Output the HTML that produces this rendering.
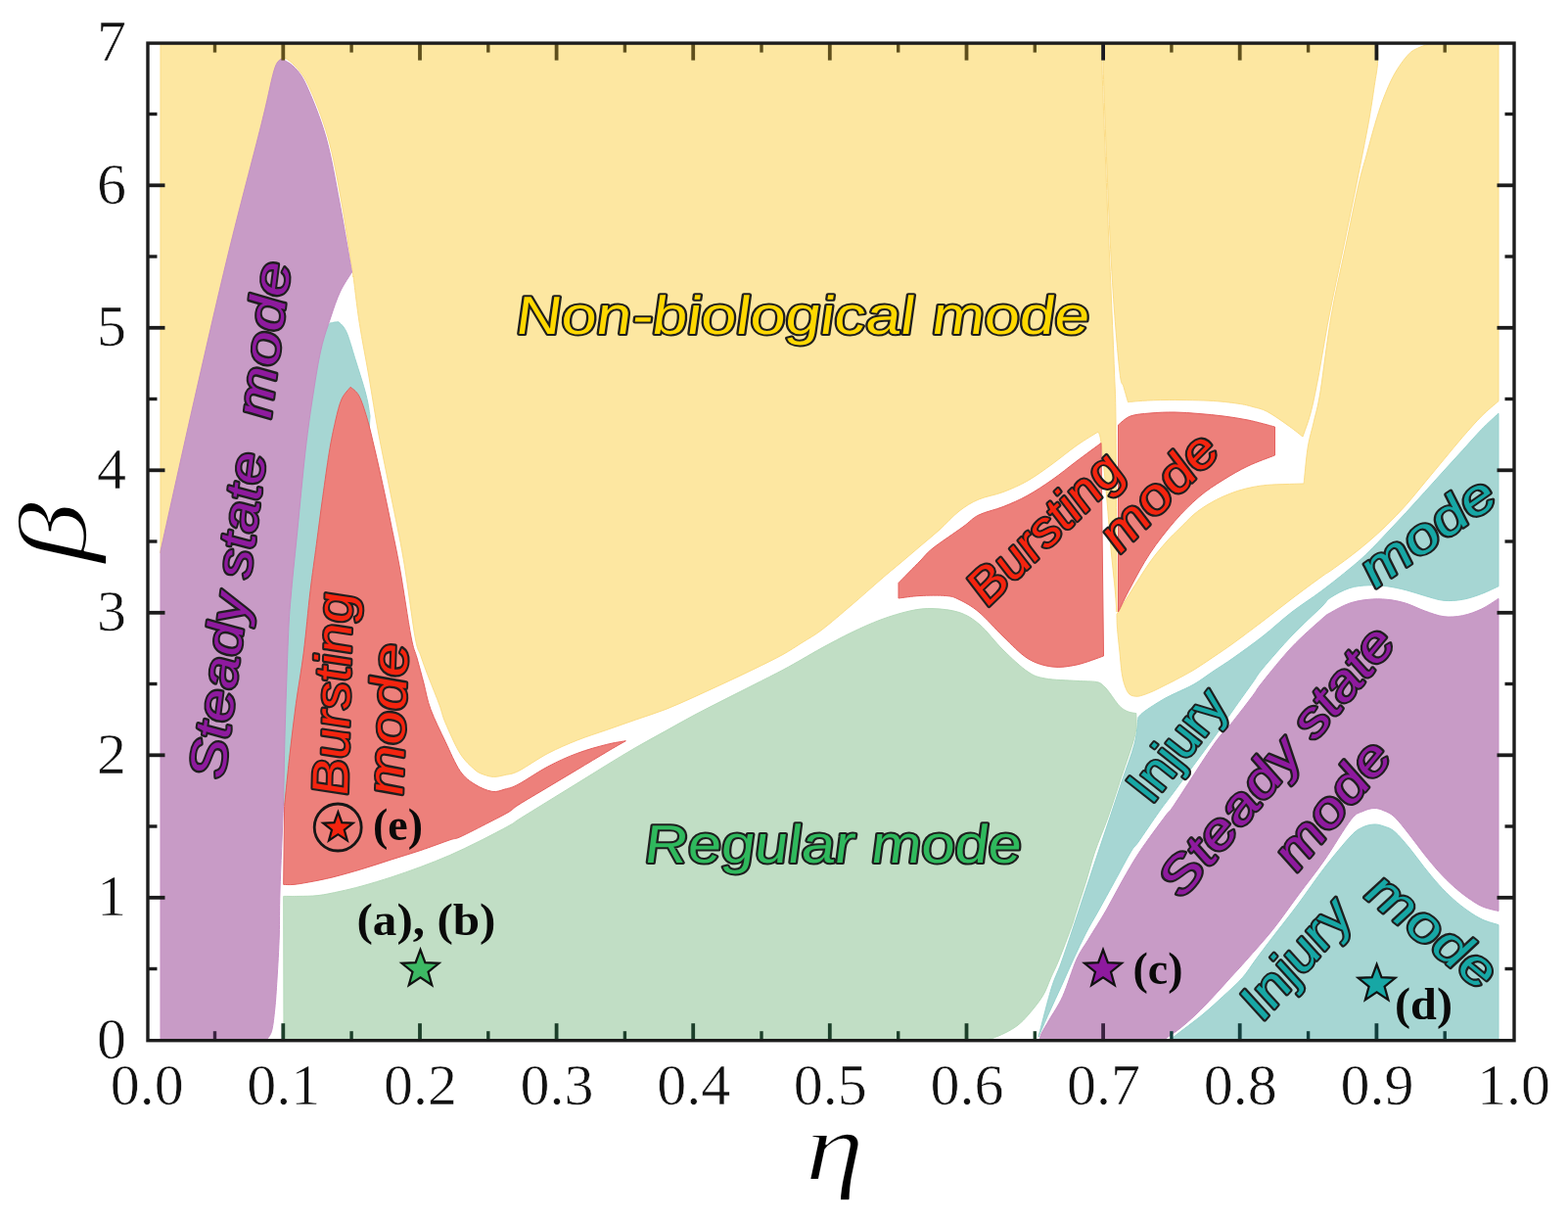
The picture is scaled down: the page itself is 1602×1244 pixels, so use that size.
<!DOCTYPE html>
<html lang="en">
<head>
<meta charset="utf-8">
<title>Firing mode map in the (η, β) plane</title>
<style>
html,body{margin:0;padding:0;background:#fff;}
body{width:1602px;height:1244px;overflow:hidden;}
svg{display:block;}
.tick{font-family:"Liberation Serif","DejaVu Serif",serif;font-size:60px;fill:#111;stroke:#fff;stroke-width:0.6px;}
.ax{font-family:"Liberation Serif","DejaVu Serif",serif;font-style:italic;fill:#000;stroke:#fff;stroke-width:1.7px;stroke-linejoin:round;}
.lab{font-family:"Liberation Sans","DejaVu Sans",sans-serif;font-weight:normal;font-style:italic;paint-order:stroke fill;stroke-linejoin:round;}
.pt{font-family:"Liberation Serif","DejaVu Serif",serif;font-weight:bold;font-size:46px;fill:#0a0a0a;}
</style>
</head>
<body>
<svg width="1602" height="1244" viewBox="0 0 1602 1244">
<rect width="1602" height="1244" fill="#ffffff"/>
<g id="regions">
<path id="yellowA" d="M164.0 44.5 L1126.0 44.5 C1126.0 48.8 1125.2 43.8 1126.0 70.0 C1126.8 96.2 1129.5 163.7 1131.0 202.0 C1132.5 240.3 1134.0 270.3 1135.2 300.0 C1136.5 329.7 1137.7 357.7 1138.5 380.0 C1139.3 402.3 1139.6 393.2 1140.0 434.0 C1140.4 474.8 1140.8 593.2 1141.0 625.0 C1140.7 620.8 1140.0 610.8 1139.0 600.0 C1138.0 589.2 1136.5 576.7 1135.0 560.0 C1133.5 543.3 1131.7 518.0 1130.0 500.0 C1128.3 482.0 1126.3 461.8 1125.0 452.0 C1123.7 442.2 1122.5 442.8 1122.0 441.0 C1118.3 443.3 1107.8 449.5 1100.0 455.0 C1092.2 460.5 1083.3 468.0 1075.0 474.0 C1066.7 480.0 1058.3 486.2 1050.0 491.0 C1041.7 495.8 1033.3 499.3 1025.0 502.5 C1016.7 505.7 1007.5 506.8 1000.0 510.0 C992.5 513.2 986.7 516.8 980.0 522.0 C973.3 527.2 966.7 535.0 960.0 541.0 C953.3 547.0 946.7 552.3 940.0 558.0 C933.3 563.7 926.7 569.4 920.0 575.0 C913.3 580.6 908.3 584.6 900.0 591.8 C891.7 599.0 880.0 609.5 870.0 618.0 C860.0 626.5 848.3 636.7 840.0 643.0 C831.7 649.3 826.7 651.8 820.0 656.0 C813.3 660.2 808.3 663.8 800.0 668.4 C791.7 673.0 780.0 678.6 770.0 683.5 C760.0 688.4 750.0 693.0 740.0 697.7 C730.0 702.4 720.0 707.0 710.0 711.5 C700.0 716.0 690.0 720.6 680.0 724.5 C670.0 728.4 659.7 731.5 649.7 735.0 C639.7 738.5 629.8 742.0 619.8 745.5 C609.8 749.0 599.8 752.0 589.8 756.0 C579.8 760.0 569.9 764.2 559.9 769.4 C549.9 774.6 537.2 783.7 529.9 787.4 C522.6 791.1 520.2 790.5 516.0 791.5 C511.8 792.5 508.1 793.5 504.4 793.4 C500.7 793.3 497.2 792.2 494.0 791.0 C490.8 789.8 489.0 789.6 485.0 786.0 C481.0 782.4 475.0 777.4 470.0 769.4 C465.0 761.4 458.5 746.2 455.0 738.0 C451.5 729.8 451.8 727.7 449.0 720.0 C446.2 712.3 441.2 700.3 438.0 692.0 C434.8 683.7 432.3 677.0 430.0 670.0 C427.7 663.0 426.9 666.4 424.0 650.0 C421.1 633.6 416.4 595.3 412.3 571.5 C408.2 547.7 403.9 528.4 399.6 507.0 C395.4 485.6 390.6 463.3 386.8 443.0 C383.0 422.7 380.2 403.8 377.0 385.0 C373.8 366.2 370.0 347.6 367.3 330.4 C364.6 313.2 362.1 290.1 361.0 282.0 L361.0 283.0 C359.0 270.3 353.3 230.8 349.0 207.0 C344.7 183.2 340.7 160.0 335.0 140.0 C329.3 120.0 320.8 99.3 315.0 87.0 C309.2 74.7 304.3 70.8 300.0 66.0 C295.7 61.2 290.8 59.3 289.0 58.0 L164.0 565.0 L164.0 44.5 Z" fill="#fde7a1" stroke="#fbdc86" stroke-width="1.0" stroke-linejoin="round"/>
<path id="yellowB" d="M1127.2 44.5 L1407.5 44.5 C1407.5 47.8 1408.0 57.4 1407.5 64.5 C1407.0 71.7 1405.7 77.4 1404.2 87.4 C1402.7 97.5 1401.2 108.5 1398.3 124.8 C1395.3 141.1 1390.8 163.5 1386.5 185.0 C1382.2 206.5 1377.1 231.0 1372.3 254.0 C1367.5 277.0 1362.2 300.8 1357.9 323.0 C1353.6 345.2 1349.7 370.5 1346.5 387.0 C1343.3 403.5 1341.6 412.2 1339.0 422.0 C1336.4 431.8 1332.3 442.0 1331.0 446.0 C1328.7 444.2 1323.3 439.7 1317.3 435.4 C1311.3 431.1 1301.0 423.7 1294.8 420.4 C1288.6 417.1 1285.0 416.9 1280.0 415.5 C1275.0 414.1 1272.3 413.2 1264.8 412.2 C1257.3 411.1 1247.4 409.8 1234.9 409.2 C1222.4 408.6 1201.7 408.4 1190.0 408.5 C1178.3 408.6 1171.2 409.1 1165.0 409.5 C1158.8 409.9 1154.6 410.5 1152.5 410.7 C1151.8 408.1 1149.4 400.1 1148.0 395.0 C1146.6 389.9 1145.8 395.8 1144.0 380.0 C1142.2 364.2 1139.3 329.7 1137.3 300.0 C1135.3 270.3 1133.9 240.3 1132.2 202.0 C1130.5 163.7 1128.0 96.2 1127.2 70.0 C1126.4 43.8 1127.2 48.8 1127.2 44.5 Z" fill="#fde7a1" stroke="#fbdc86" stroke-width="1.0" stroke-linejoin="round"/>
<path id="yellowC" d="M1141.0 627.5 C1143.3 623.8 1149.3 613.9 1155.0 605.0 C1160.7 596.1 1168.8 582.7 1175.0 574.0 C1181.2 565.3 1187.0 558.7 1192.0 553.0 C1197.0 547.3 1200.2 544.6 1204.9 540.0 C1209.6 535.4 1214.9 529.5 1219.9 525.3 C1224.9 521.1 1229.9 517.8 1234.9 514.8 C1239.9 511.7 1245.0 509.2 1250.0 507.0 C1255.0 504.8 1259.8 502.9 1264.8 501.3 C1269.8 499.7 1275.0 498.5 1280.0 497.5 C1285.0 496.5 1289.0 495.9 1294.8 495.4 C1300.6 494.9 1308.8 494.7 1315.0 494.5 C1321.2 494.3 1329.3 494.1 1332.2 494.0 C1332.3 492.5 1332.3 491.5 1333.0 485.0 C1333.7 478.5 1334.9 464.2 1336.5 455.0 C1338.1 445.8 1340.4 439.2 1342.5 430.0 C1344.6 420.8 1346.1 417.8 1349.0 400.0 C1351.9 382.2 1355.8 347.3 1360.0 323.0 C1364.2 298.7 1369.6 276.5 1374.3 254.0 C1379.0 231.5 1384.6 203.8 1388.2 188.0 C1391.8 172.2 1393.3 169.1 1396.0 159.0 C1398.7 148.9 1401.8 137.1 1404.6 127.6 C1407.4 118.1 1409.7 110.4 1413.0 101.8 C1416.3 93.2 1420.2 83.7 1424.5 76.0 C1428.8 68.3 1434.5 60.4 1438.8 55.8 C1443.0 51.2 1446.1 50.4 1450.0 48.5 C1453.9 46.6 1460.0 45.2 1462.0 44.5 L1531.0 44.5 L1531.0 409.7 C1528.1 412.2 1519.8 418.9 1513.7 425.0 C1507.6 431.1 1500.9 438.9 1494.4 446.3 C1488.0 453.7 1481.4 461.8 1475.0 469.5 C1468.6 477.2 1462.2 485.0 1455.8 492.7 C1449.4 500.4 1442.9 508.6 1436.5 515.8 C1430.1 523.0 1423.6 529.7 1417.2 536.0 C1410.8 542.3 1404.4 547.9 1398.0 553.4 C1391.6 558.9 1385.0 564.1 1378.6 569.0 C1372.1 573.9 1364.1 579.6 1359.3 583.0 C1354.5 586.4 1356.5 584.5 1350.0 589.2 C1343.5 593.9 1330.0 603.8 1320.0 611.4 C1310.0 619.0 1300.0 627.0 1290.0 634.6 C1280.0 642.2 1268.3 651.0 1260.0 657.0 C1251.7 663.0 1246.7 666.3 1240.0 670.8 C1233.3 675.3 1226.5 680.1 1220.0 684.0 C1213.5 687.9 1206.3 691.6 1201.3 694.3 C1196.3 697.0 1193.8 698.1 1190.0 700.0 C1186.2 701.9 1182.5 703.9 1178.8 705.6 C1175.0 707.3 1170.5 709.1 1167.5 710.0 C1164.5 710.9 1163.0 711.4 1160.8 711.2 C1158.5 711.0 1155.9 710.7 1154.0 709.0 C1152.1 707.3 1150.8 704.6 1149.5 701.0 C1148.2 697.4 1147.1 693.5 1146.2 687.5 C1145.3 681.5 1144.7 672.5 1143.9 665.0 C1143.1 657.5 1142.1 648.8 1141.6 642.5 C1141.1 636.2 1141.1 630.0 1141.0 627.5 Z" fill="#fde7a1" stroke="#fbdc86" stroke-width="1.0" stroke-linejoin="round"/>
<path id="tealU" d="M1163.0 732.6 C1163.8 731.8 1164.9 730.1 1167.5 728.0 C1170.1 725.9 1175.0 722.6 1178.8 720.2 C1182.5 717.8 1186.2 715.5 1190.0 713.4 C1193.8 711.3 1196.3 710.2 1201.3 707.8 C1206.3 705.4 1213.5 702.5 1220.0 698.8 C1226.5 695.0 1233.3 689.8 1240.0 685.3 C1246.7 680.8 1251.7 677.9 1260.0 672.0 C1268.3 666.1 1280.0 657.8 1290.0 650.0 C1300.0 642.2 1310.0 632.7 1320.0 625.0 C1330.0 617.3 1340.0 611.2 1350.0 603.7 C1360.0 596.2 1372.0 586.6 1380.0 580.0 C1388.0 573.4 1391.8 570.0 1398.0 564.0 C1404.2 558.0 1410.8 550.8 1417.2 544.0 C1423.6 537.2 1430.1 530.5 1436.5 523.5 C1442.9 516.5 1449.4 509.4 1455.8 502.3 C1462.2 495.2 1468.6 488.1 1475.0 481.0 C1481.4 473.9 1488.0 466.9 1494.4 459.8 C1500.9 452.7 1507.6 444.9 1513.7 438.6 C1519.8 432.3 1528.1 424.9 1531.0 422.2 L1531.0 598.8 C1528.1 600.1 1519.8 604.2 1513.7 606.5 C1507.6 608.8 1500.9 611.2 1494.4 612.3 C1488.0 613.4 1481.4 613.9 1475.0 613.3 C1468.6 612.7 1462.2 610.3 1455.8 608.5 C1449.4 606.7 1442.9 604.3 1436.5 602.7 C1430.1 601.1 1423.6 599.6 1417.2 598.8 C1410.8 598.0 1404.4 597.5 1398.0 597.8 C1391.6 598.1 1385.0 598.6 1378.6 600.7 C1372.1 602.8 1364.1 607.2 1359.3 610.4 C1354.5 613.6 1356.5 613.6 1350.0 620.0 C1343.5 626.4 1330.0 638.5 1320.0 649.0 C1310.0 659.5 1296.7 674.9 1290.0 682.9 C1283.3 690.9 1285.0 689.9 1280.0 696.9 C1275.0 703.9 1266.7 715.5 1260.0 725.0 C1253.3 734.5 1250.0 739.9 1240.0 753.7 C1230.0 767.5 1209.3 795.5 1200.0 808.0 C1190.7 820.5 1190.5 820.3 1184.3 829.0 C1178.1 837.7 1167.8 853.2 1163.0 860.0 C1158.2 866.8 1159.4 863.3 1155.4 870.0 C1151.4 876.7 1144.4 890.0 1138.9 900.0 C1133.4 910.0 1127.3 921.2 1122.4 930.0 C1117.5 938.8 1113.7 944.8 1109.5 953.0 C1105.3 961.2 1101.2 970.0 1097.0 979.0 C1092.8 988.0 1088.8 997.5 1084.6 1006.7 C1080.4 1015.9 1075.9 1025.3 1072.0 1034.0 C1068.1 1042.7 1062.8 1054.8 1061.0 1059.0 C1063.2 1050.8 1070.2 1022.5 1074.0 1010.0 C1077.8 997.5 1080.2 994.5 1084.0 984.0 C1087.8 973.5 1092.4 959.4 1096.6 947.0 C1100.8 934.6 1104.8 922.0 1109.0 909.5 C1113.2 897.0 1117.3 884.5 1121.5 872.0 C1125.7 859.5 1129.8 847.2 1134.0 834.8 C1138.2 822.4 1142.2 809.9 1146.4 797.4 C1150.6 784.9 1156.2 770.8 1159.0 760.0 C1161.8 749.2 1162.3 737.2 1163.0 732.6 Z" fill="#a6d6d3" stroke="#96d2ce" stroke-width="1.0" stroke-linejoin="round"/>
<path id="purpleR" d="M1062.0 1062.0 C1062.4 1060.8 1062.6 1058.4 1064.3 1055.0 C1066.0 1051.6 1068.4 1047.8 1072.0 1041.6 C1075.6 1035.3 1081.1 1027.8 1085.8 1017.5 C1090.5 1007.2 1095.5 989.7 1099.9 980.0 C1104.3 970.3 1107.0 967.7 1112.0 959.4 C1117.0 951.1 1124.3 939.9 1130.0 930.0 C1135.7 920.1 1140.7 910.0 1146.4 900.0 C1152.1 890.0 1156.9 881.2 1164.3 870.0 C1171.7 858.8 1185.0 841.1 1191.0 833.0 C1197.0 824.9 1191.8 833.6 1200.0 821.5 C1208.2 809.4 1230.0 774.7 1240.0 760.5 C1250.0 746.3 1253.3 744.8 1260.0 736.4 C1266.7 728.0 1275.0 717.1 1280.0 710.4 C1285.0 703.7 1283.3 704.7 1290.0 696.4 C1296.7 688.1 1310.0 671.3 1320.0 660.7 C1330.0 650.1 1343.5 638.5 1350.0 632.7 C1356.5 626.9 1354.5 628.5 1359.3 625.8 C1364.1 623.0 1372.1 618.5 1378.6 616.2 C1385.0 614.0 1391.6 612.9 1398.0 612.3 C1404.4 611.6 1410.8 611.6 1417.2 612.3 C1423.6 612.9 1430.1 614.2 1436.5 616.2 C1442.9 618.2 1449.4 621.8 1455.8 624.0 C1462.2 626.2 1468.6 628.9 1475.0 629.7 C1481.4 630.5 1488.0 630.0 1494.4 628.7 C1500.9 627.4 1507.6 624.9 1513.7 622.0 C1519.8 619.1 1528.1 613.2 1531.0 611.4 L1531.0 930.5 C1528.3 929.8 1520.0 928.2 1514.8 926.0 C1509.6 923.8 1504.8 920.5 1499.8 917.0 C1494.8 913.5 1489.8 909.5 1484.8 905.0 C1479.8 900.5 1474.8 895.5 1469.8 890.0 C1464.8 884.5 1459.8 878.3 1454.8 872.0 C1449.8 865.7 1444.9 858.6 1439.9 852.4 C1434.9 846.1 1429.2 838.6 1424.9 834.5 C1420.6 830.4 1417.5 829.5 1414.0 828.0 C1410.5 826.5 1407.7 825.4 1404.0 825.5 C1400.3 825.6 1396.0 826.8 1392.0 828.8 C1388.0 830.8 1386.5 829.2 1380.0 837.5 C1373.5 845.8 1361.9 866.0 1353.0 878.7 C1344.1 891.5 1335.4 902.2 1326.6 914.0 C1317.8 925.8 1309.2 938.5 1300.4 949.5 C1291.6 960.5 1281.2 971.8 1274.0 980.0 C1266.8 988.2 1262.7 992.5 1257.0 998.7 C1251.3 1005.0 1245.8 1011.3 1240.0 1017.5 C1234.2 1023.7 1227.7 1030.6 1222.0 1036.0 C1216.3 1041.4 1211.0 1046.0 1206.0 1050.0 C1201.0 1054.0 1194.7 1058.0 1192.0 1060.0 C1189.3 1062.0 1190.3 1061.7 1190.0 1062.0 L1062.0 1062.0 Z" fill="#c89bc6" stroke="#c58fc3" stroke-width="1.0" stroke-linejoin="round"/>
<path id="tealL" d="M1197.0 1062.0 C1197.6 1061.3 1195.2 1062.3 1200.5 1058.0 C1205.8 1053.7 1220.8 1042.8 1229.0 1036.0 C1237.2 1029.2 1243.0 1023.7 1249.7 1017.5 C1256.4 1011.3 1263.8 1005.0 1269.3 998.7 C1274.8 992.5 1277.8 987.0 1283.0 980.0 C1288.2 973.0 1293.1 966.5 1300.4 957.0 C1307.7 947.5 1317.8 934.8 1326.6 923.0 C1335.4 911.2 1344.1 898.0 1353.0 886.5 C1361.9 875.0 1373.5 860.9 1380.0 854.0 C1386.5 847.1 1388.0 847.0 1392.0 845.0 C1396.0 843.0 1400.3 842.2 1404.0 842.0 C1407.7 841.8 1410.5 842.8 1414.0 844.0 C1417.5 845.2 1420.6 845.7 1424.9 849.4 C1429.2 853.1 1434.9 860.0 1439.9 866.0 C1444.9 872.0 1449.8 879.2 1454.8 885.4 C1459.8 891.6 1464.8 897.9 1469.8 903.4 C1474.8 908.9 1479.8 913.9 1484.8 918.4 C1489.8 922.9 1494.8 926.8 1499.8 930.3 C1504.8 933.8 1509.6 936.9 1514.8 939.3 C1520.0 941.7 1528.3 943.7 1531.0 944.6 L1531.0 1062.0 L1197.0 1062.0 Z" fill="#a6d6d3" stroke="#96d2ce" stroke-width="1.0" stroke-linejoin="round"/>
<path id="green" d="M290.0 1062.0 L289.7 915.4 C292.2 915.4 299.1 915.5 305.0 915.4 C310.9 915.3 318.0 915.4 325.0 914.6 C332.0 913.8 339.5 912.1 347.0 910.5 C354.5 908.9 361.2 907.3 370.0 904.9 C378.8 902.5 389.9 899.1 399.9 895.9 C409.9 892.6 419.8 889.1 429.8 885.4 C439.8 881.6 449.8 877.8 459.8 873.4 C469.8 869.0 479.7 864.2 489.7 859.2 C499.7 854.2 513.3 847.1 520.0 843.4 C526.7 839.7 523.2 841.2 529.9 837.0 C536.5 832.8 549.9 824.6 559.9 818.4 C569.9 812.2 579.8 806.2 589.8 800.0 C599.8 793.8 609.8 787.5 619.8 781.4 C629.8 775.3 639.7 769.2 649.7 763.4 C659.7 757.6 670.0 752.2 680.0 746.6 C690.0 741.0 700.0 735.3 710.0 730.0 C720.0 724.7 730.0 719.7 740.0 714.6 C750.0 709.5 760.0 704.6 770.0 699.5 C780.0 694.4 791.7 688.6 800.0 684.2 C808.3 679.8 813.3 676.8 820.0 673.0 C826.7 669.2 831.7 666.1 840.0 661.6 C848.3 657.1 860.0 650.8 870.0 646.0 C880.0 641.2 890.0 636.6 900.0 632.9 C910.0 629.2 921.2 625.8 930.0 623.9 C938.8 622.0 944.7 621.3 953.0 621.6 C961.3 621.9 972.0 622.8 980.0 625.5 C988.0 628.2 993.5 631.6 1001.0 638.0 C1008.5 644.4 1016.8 656.0 1025.0 664.0 C1033.2 672.0 1042.8 681.2 1050.0 686.0 C1057.2 690.8 1059.7 691.4 1068.0 693.0 C1076.3 694.6 1091.3 694.8 1100.0 695.4 C1108.7 696.0 1115.6 695.6 1120.3 696.5 C1125.0 697.4 1125.8 699.1 1128.1 701.0 C1130.3 702.9 1131.9 705.3 1133.8 707.8 C1135.7 710.2 1137.5 713.3 1139.4 715.7 C1141.3 718.1 1142.8 720.5 1145.0 722.4 C1147.2 724.3 1150.3 726.0 1152.9 727.0 C1155.5 728.0 1159.5 728.3 1160.8 728.6 C1160.8 731.1 1161.4 738.6 1160.8 743.8 C1160.2 749.0 1159.7 751.1 1157.0 760.0 C1154.3 768.9 1148.6 784.9 1144.4 797.4 C1140.2 809.9 1136.3 822.7 1132.0 834.8 C1127.7 846.9 1122.3 859.1 1118.6 870.0 C1114.9 880.9 1112.8 890.0 1109.7 900.0 C1106.6 910.0 1102.5 922.2 1100.0 930.0 C1097.5 937.8 1097.6 938.7 1094.6 947.0 C1091.6 955.3 1085.5 971.4 1082.0 980.0 C1078.5 988.6 1076.4 992.5 1073.6 998.7 C1070.8 1005.0 1069.0 1011.3 1065.2 1017.5 C1061.4 1023.7 1055.2 1031.1 1051.0 1036.0 C1046.8 1040.9 1044.0 1043.8 1040.0 1047.0 C1036.0 1050.2 1031.2 1052.8 1026.8 1055.0 C1022.4 1057.2 1017.3 1059.3 1013.7 1060.5 C1010.1 1061.7 1006.5 1061.8 1005.0 1062.0 L290.0 1062.0 Z" fill="#c1dec5" stroke="#b4d9b9" stroke-width="1.0" stroke-linejoin="round"/>
<path id="tealS" d="M345.9 328.8 C346.8 329.7 349.4 331.6 351.0 334.0 C352.6 336.4 353.5 337.4 355.6 343.2 C357.7 349.0 360.9 360.4 363.6 369.0 C366.3 377.6 369.6 387.9 371.6 394.7 C373.6 401.5 374.4 404.9 375.5 410.0 C376.6 415.1 377.6 422.5 378.0 425.0 C376.7 440.8 378.0 474.2 370.0 520.0 C362.0 565.8 341.7 649.7 330.0 700.0 C318.3 750.3 305.0 801.7 300.0 822.0 L288.0 822.0 C288.2 810.3 288.2 780.7 289.0 752.0 C289.8 723.3 290.3 685.4 292.5 650.0 C294.7 614.6 299.1 571.2 302.0 539.4 C304.9 507.6 307.3 482.1 310.0 459.0 C312.7 435.9 315.3 418.2 318.0 401.0 C320.7 383.8 323.2 367.3 326.0 356.0 C328.8 344.7 332.7 337.4 335.0 333.0 C337.3 328.6 338.2 330.2 340.0 329.5 C341.8 328.8 344.9 328.9 345.9 328.8 Z" fill="#a6d6d3" stroke="#96d2ce" stroke-width="1.0" stroke-linejoin="round"/>
<path id="purpleL" d="M164.0 1062.0 L164.0 563.0 C169.5 538.3 185.5 465.5 197.0 415.0 C208.5 364.5 221.3 308.0 233.0 260.0 C244.7 212.0 259.2 158.3 267.0 127.0 C274.8 95.7 276.7 83.2 280.0 72.0 C283.3 60.8 285.8 62.0 287.0 60.0 C289.2 61.3 295.7 63.5 300.0 68.0 C304.3 72.5 307.5 75.0 313.0 87.0 C318.5 99.0 327.3 120.0 333.0 140.0 C338.7 160.0 342.6 184.0 347.0 207.0 C351.4 230.0 357.4 266.2 359.5 278.0 C357.5 281.3 351.1 290.3 347.5 298.0 C343.9 305.7 341.1 314.3 337.9 324.0 C334.7 333.7 331.1 343.2 328.2 356.0 C325.2 368.8 322.9 383.8 320.2 401.0 C317.5 418.2 314.9 435.9 312.2 459.0 C309.5 482.1 306.5 515.3 304.1 539.4 C301.7 563.5 299.3 585.3 297.7 603.7 C296.1 622.1 295.6 625.2 294.5 650.0 C293.4 674.8 291.8 724.3 291.0 752.6 C290.2 780.9 290.3 793.8 289.5 820.0 C288.7 846.2 286.7 887.5 286.0 910.0 C285.3 932.5 285.8 940.0 285.3 955.0 C284.8 970.0 283.8 987.5 283.0 1000.0 C282.2 1012.5 281.7 1021.3 280.8 1030.0 C279.9 1038.7 279.1 1046.8 277.8 1052.0 C276.6 1057.2 274.3 1059.3 273.3 1061.0 C272.3 1062.7 272.2 1061.8 272.0 1062.0 L164.0 1062.0 Z" fill="#c89bc6" stroke="#c58fc3" stroke-width="1.0" stroke-linejoin="round"/>
<path id="redL" d="M358.1 395.3 C359.6 396.8 364.0 399.1 366.8 404.3 C369.6 409.6 372.2 417.7 374.9 426.8 C377.6 435.9 380.2 447.7 382.9 459.0 C385.6 470.3 388.2 482.1 390.9 494.4 C393.6 506.7 396.1 518.6 399.0 533.0 C401.9 547.4 405.1 561.5 408.6 581.0 C412.1 600.5 417.0 634.8 419.9 650.0 C422.8 665.2 423.8 664.0 426.0 672.0 C428.2 680.0 430.7 689.2 433.0 698.0 C435.3 706.8 436.3 714.6 440.0 724.5 C443.7 734.4 450.0 747.0 455.0 757.5 C460.0 768.0 465.0 780.1 470.0 787.4 C475.0 794.6 479.5 797.5 485.0 801.0 C490.5 804.5 497.7 807.6 502.9 808.4 C508.1 809.2 511.5 807.2 516.0 806.0 C520.5 804.8 522.6 804.8 529.9 800.9 C537.2 797.0 549.9 788.1 559.9 782.9 C569.9 777.6 579.8 773.1 589.8 769.4 C599.8 765.6 611.5 762.5 619.8 760.4 C628.0 758.3 636.0 757.3 639.3 756.7 C636.0 758.6 628.0 763.1 619.8 768.0 C611.5 772.9 599.8 780.0 589.8 786.0 C579.8 792.0 569.9 797.9 559.9 803.9 C549.9 809.9 536.5 817.7 529.9 821.9 C523.2 826.1 525.0 826.2 520.0 829.2 C515.0 832.2 508.2 835.5 499.9 839.8 C491.6 844.1 476.7 851.8 470.0 854.8 C463.3 857.8 466.5 855.5 459.8 857.8 C453.1 860.1 439.8 865.1 429.8 868.5 C419.8 871.9 409.9 874.7 399.9 877.9 C389.9 881.1 380.0 884.5 370.0 887.5 C360.0 890.5 349.1 893.6 340.0 895.9 C330.9 898.1 322.2 899.8 315.5 901.0 C308.8 902.2 304.3 903.0 300.0 903.4 C295.7 903.8 291.4 903.4 289.7 903.4 L290.6 823.5 C291.5 814.8 294.0 788.5 296.0 771.0 C298.0 753.5 300.0 736.2 302.4 718.7 C304.8 701.2 307.9 685.2 310.3 666.0 C312.7 646.8 314.8 622.1 317.0 603.7 C319.2 585.3 321.3 571.6 323.4 555.5 C325.5 539.4 327.6 522.8 329.8 507.2 C332.0 491.6 334.2 475.1 336.3 462.2 C338.4 449.3 340.6 439.1 342.7 430.0 C344.8 420.9 346.5 413.4 349.1 407.6 C351.7 401.8 356.6 397.4 358.1 395.3 Z" fill="#ed807b" stroke="#e4605e" stroke-width="1.0" stroke-linejoin="round"/>
<path id="redM" d="M918.0 595.4 C921.7 591.7 934.2 578.9 940.0 573.0 C945.8 567.1 945.7 565.8 953.0 560.0 C960.3 554.2 976.2 543.7 984.0 538.0 C991.8 532.3 993.2 529.4 1000.0 526.0 C1006.8 522.6 1016.7 520.8 1025.0 517.5 C1033.3 514.2 1041.7 510.6 1050.0 506.0 C1058.3 501.4 1066.7 495.8 1075.0 490.0 C1083.3 484.2 1091.7 477.2 1100.0 471.0 C1108.3 464.8 1120.8 455.6 1125.0 452.5 L1127.5 670.0 C1122.9 671.5 1108.8 677.2 1100.0 679.0 C1091.2 680.8 1083.3 682.1 1075.0 681.0 C1066.7 679.9 1058.3 677.7 1050.0 672.5 C1041.7 667.3 1033.3 657.9 1025.0 650.0 C1016.7 642.1 1007.5 631.3 1000.0 625.0 C992.5 618.7 985.6 615.1 980.0 612.4 C974.4 609.6 973.1 609.1 966.4 608.5 C959.7 607.9 948.1 608.1 940.0 608.5 C931.9 608.9 921.7 610.6 918.0 611.0 L918.0 595.4 Z" fill="#ed807b" stroke="#e4605e" stroke-width="1.0" stroke-linejoin="round"/>
<path id="red2" d="M1142.5 434.0 C1144.6 432.5 1149.6 427.0 1155.0 425.0 C1160.4 423.0 1167.5 422.7 1175.0 422.0 C1182.5 421.3 1191.7 420.9 1200.0 421.0 C1208.3 421.1 1216.7 421.8 1225.0 422.5 C1233.3 423.2 1241.7 423.9 1250.0 425.0 C1258.3 426.1 1266.2 427.2 1275.0 429.0 C1283.8 430.8 1297.9 434.8 1302.5 436.0 L1302.5 465.0 C1297.9 466.8 1283.8 471.8 1275.0 476.0 C1266.2 480.2 1258.3 484.8 1250.0 490.0 C1241.7 495.2 1233.3 500.4 1225.0 507.5 C1216.7 514.6 1208.3 522.9 1200.0 532.5 C1191.7 542.1 1182.5 553.8 1175.0 565.0 C1167.5 576.2 1160.4 590.0 1155.0 600.0 C1149.6 610.0 1144.6 620.8 1142.5 625.0 L1142.5 434.0 Z" fill="#ed807b" stroke="#e4605e" stroke-width="1.0" stroke-linejoin="round"/>
</g>
<g id="axes">
<g stroke="#1c1c1c"><line x1="219.5" y1="1061.7" x2="219.5" y2="1053.2" stroke-width="3.4" stroke="#3a2340"/><line x1="219.5" y1="45.1" x2="219.5" y2="53.6" stroke-width="3.4" stroke="#5f4f1c"/><line x1="289.3" y1="1061.7" x2="289.3" y2="1045.2" stroke-width="3.8" stroke="#1c3f2a"/><line x1="289.3" y1="45.1" x2="289.3" y2="61.6" stroke-width="3.8" stroke="#5f4f1c"/><line x1="359.1" y1="1061.7" x2="359.1" y2="1053.2" stroke-width="3.4" stroke="#1c3f2a"/><line x1="359.1" y1="45.1" x2="359.1" y2="53.6" stroke-width="3.4" stroke="#5f4f1c"/><line x1="429.0" y1="1061.7" x2="429.0" y2="1045.2" stroke-width="3.8" stroke="#1c3f2a"/><line x1="429.0" y1="45.1" x2="429.0" y2="61.6" stroke-width="3.8" stroke="#5f4f1c"/><line x1="498.8" y1="1061.7" x2="498.8" y2="1053.2" stroke-width="3.4" stroke="#1c3f2a"/><line x1="498.8" y1="45.1" x2="498.8" y2="53.6" stroke-width="3.4" stroke="#5f4f1c"/><line x1="568.6" y1="1061.7" x2="568.6" y2="1045.2" stroke-width="3.8" stroke="#1c3f2a"/><line x1="568.6" y1="45.1" x2="568.6" y2="61.6" stroke-width="3.8" stroke="#5f4f1c"/><line x1="638.4" y1="1061.7" x2="638.4" y2="1053.2" stroke-width="3.4" stroke="#1c3f2a"/><line x1="638.4" y1="45.1" x2="638.4" y2="53.6" stroke-width="3.4" stroke="#5f4f1c"/><line x1="708.2" y1="1061.7" x2="708.2" y2="1045.2" stroke-width="3.8" stroke="#1c3f2a"/><line x1="708.2" y1="45.1" x2="708.2" y2="61.6" stroke-width="3.8" stroke="#5f4f1c"/><line x1="778.0" y1="1061.7" x2="778.0" y2="1053.2" stroke-width="3.4" stroke="#1c3f2a"/><line x1="778.0" y1="45.1" x2="778.0" y2="53.6" stroke-width="3.4" stroke="#5f4f1c"/><line x1="847.8" y1="1061.7" x2="847.8" y2="1045.2" stroke-width="3.8" stroke="#1c3f2a"/><line x1="847.8" y1="45.1" x2="847.8" y2="61.6" stroke-width="3.8" stroke="#5f4f1c"/><line x1="917.7" y1="1061.7" x2="917.7" y2="1053.2" stroke-width="3.4" stroke="#1c3f2a"/><line x1="917.7" y1="45.1" x2="917.7" y2="53.6" stroke-width="3.4" stroke="#5f4f1c"/><line x1="987.5" y1="1061.7" x2="987.5" y2="1045.2" stroke-width="3.8" stroke="#1c3f2a"/><line x1="987.5" y1="45.1" x2="987.5" y2="61.6" stroke-width="3.8" stroke="#5f4f1c"/><line x1="1057.3" y1="1061.7" x2="1057.3" y2="1053.2" stroke-width="3.4" stroke="#1c3f2a"/><line x1="1057.3" y1="45.1" x2="1057.3" y2="53.6" stroke-width="3.4" stroke="#5f4f1c"/><line x1="1127.1" y1="1061.7" x2="1127.1" y2="1045.2" stroke-width="3.8" stroke="#3a2340"/><line x1="1127.1" y1="45.1" x2="1127.1" y2="61.6" stroke-width="3.8" stroke="#1a1a22"/><line x1="1196.9" y1="1061.7" x2="1196.9" y2="1053.2" stroke-width="3.4" stroke="#123f3e"/><line x1="1196.9" y1="45.1" x2="1196.9" y2="53.6" stroke-width="3.4" stroke="#5f4f1c"/><line x1="1266.7" y1="1061.7" x2="1266.7" y2="1045.2" stroke-width="3.8" stroke="#123f3e"/><line x1="1266.7" y1="45.1" x2="1266.7" y2="61.6" stroke-width="3.8" stroke="#5f4f1c"/><line x1="1336.6" y1="1061.7" x2="1336.6" y2="1053.2" stroke-width="3.4" stroke="#123f3e"/><line x1="1336.6" y1="45.1" x2="1336.6" y2="53.6" stroke-width="3.4" stroke="#5f4f1c"/><line x1="1406.4" y1="1061.7" x2="1406.4" y2="1045.2" stroke-width="3.8" stroke="#123f3e"/><line x1="1406.4" y1="45.1" x2="1406.4" y2="61.6" stroke-width="3.8" stroke="#1c1c1c"/><line x1="1476.2" y1="1061.7" x2="1476.2" y2="1053.2" stroke-width="3.4" stroke="#123f3e"/><line x1="1476.2" y1="45.1" x2="1476.2" y2="53.6" stroke-width="3.4" stroke="#5f4f1c"/><line x1="151.0" y1="989.5" x2="160.5" y2="989.5" stroke-width="3.4"/><line x1="1547.0" y1="989.5" x2="1537.5" y2="989.5" stroke-width="3.4"/><line x1="151.0" y1="916.8" x2="168.5" y2="916.8" stroke-width="3.8"/><line x1="1547.0" y1="916.8" x2="1529.5" y2="916.8" stroke-width="3.8"/><line x1="151.0" y1="844.0" x2="160.5" y2="844.0" stroke-width="3.4"/><line x1="1547.0" y1="844.0" x2="1537.5" y2="844.0" stroke-width="3.4"/><line x1="151.0" y1="771.3" x2="168.5" y2="771.3" stroke-width="3.8"/><line x1="1547.0" y1="771.3" x2="1529.5" y2="771.3" stroke-width="3.8"/><line x1="151.0" y1="698.5" x2="160.5" y2="698.5" stroke-width="3.4"/><line x1="1547.0" y1="698.5" x2="1537.5" y2="698.5" stroke-width="3.4"/><line x1="151.0" y1="625.8" x2="168.5" y2="625.8" stroke-width="3.8"/><line x1="1547.0" y1="625.8" x2="1529.5" y2="625.8" stroke-width="3.8"/><line x1="151.0" y1="553.0" x2="160.5" y2="553.0" stroke-width="3.4"/><line x1="1547.0" y1="553.0" x2="1537.5" y2="553.0" stroke-width="3.4"/><line x1="151.0" y1="480.3" x2="168.5" y2="480.3" stroke-width="3.8"/><line x1="1547.0" y1="480.3" x2="1529.5" y2="480.3" stroke-width="3.8"/><line x1="151.0" y1="407.5" x2="160.5" y2="407.5" stroke-width="3.4"/><line x1="1547.0" y1="407.5" x2="1537.5" y2="407.5" stroke-width="3.4"/><line x1="151.0" y1="334.8" x2="168.5" y2="334.8" stroke-width="3.8"/><line x1="1547.0" y1="334.8" x2="1529.5" y2="334.8" stroke-width="3.8"/><line x1="151.0" y1="262.0" x2="160.5" y2="262.0" stroke-width="3.4"/><line x1="1547.0" y1="262.0" x2="1537.5" y2="262.0" stroke-width="3.4"/><line x1="151.0" y1="189.3" x2="168.5" y2="189.3" stroke-width="3.8"/><line x1="1547.0" y1="189.3" x2="1529.5" y2="189.3" stroke-width="3.8"/><line x1="151.0" y1="116.5" x2="160.5" y2="116.5" stroke-width="3.4"/><line x1="1547.0" y1="116.5" x2="1537.5" y2="116.5" stroke-width="3.4"/></g>
<rect x="151.0" y="44.1" width="1396.0" height="1018.6" fill="none" stroke="#1c1c1c" stroke-width="3.4"/>
<text class="tick" x="150.2" y="1128" text-anchor="middle">0.0</text>
<text class="tick" x="289.8" y="1128" text-anchor="middle">0.1</text>
<text class="tick" x="429.5" y="1128" text-anchor="middle">0.2</text>
<text class="tick" x="569.1" y="1128" text-anchor="middle">0.3</text>
<text class="tick" x="708.7" y="1128" text-anchor="middle">0.4</text>
<text class="tick" x="848.3" y="1128" text-anchor="middle">0.5</text>
<text class="tick" x="988.0" y="1128" text-anchor="middle">0.6</text>
<text class="tick" x="1127.6" y="1128" text-anchor="middle">0.7</text>
<text class="tick" x="1267.2" y="1128" text-anchor="middle">0.8</text>
<text class="tick" x="1406.9" y="1128" text-anchor="middle">0.9</text>
<text class="tick" x="1546.5" y="1128" text-anchor="middle">1.0</text>
<text class="tick" x="129" y="1080.5" text-anchor="end">0</text>
<text class="tick" x="129" y="935.0" text-anchor="end">1</text>
<text class="tick" x="129" y="789.5" text-anchor="end">2</text>
<text class="tick" x="129" y="644.0" text-anchor="end">3</text>
<text class="tick" x="129" y="498.5" text-anchor="end">4</text>
<text class="tick" x="129" y="353.0" text-anchor="end">5</text>
<text class="tick" x="129" y="207.5" text-anchor="end">6</text>
<text class="tick" x="129" y="62.0" text-anchor="end">7</text>
<text class="ax" font-size="99" transform="translate(822.7 1205) scale(1.22 1)">η</text>
<text class="ax" font-size="100" transform="translate(87.5 575) rotate(-90) scale(1.25 1)">β</text>
</g>
<g id="labels">
<text class="lab" font-size="55.0" fill="#ffd800" stroke="#1e1e1e" stroke-width="4.0" transform="translate(821.5 340.5) rotate(0.0) skewX(5)" text-anchor="middle" textLength="586.0" lengthAdjust="spacingAndGlyphs">Non-biological mode</text>
<text class="lab" font-size="55.0" fill="#2fb95d" stroke="#1e1e1e" stroke-width="4.0" transform="translate(852.5 880.5) rotate(0.0) skewX(5)" text-anchor="middle" textLength="385.0" lengthAdjust="spacingAndGlyphs">Regular mode</text>
<text class="lab" font-size="52.0" fill="#8e1a9e" stroke="#1e1e1e" stroke-width="4.0" transform="translate(228.5 797.8) rotate(-82.6) skewX(5)"><tspan x="2.0" textLength="191.0" lengthAdjust="spacingAndGlyphs">Steady</tspan> <tspan x="208.5" textLength="129.5" lengthAdjust="spacingAndGlyphs">state</tspan> <tspan x="373.0" textLength="161.5" lengthAdjust="spacingAndGlyphs">mode</tspan></text>
<text class="lab" font-size="52.0" fill="#f4240f" stroke="#1e1e1e" stroke-width="4.0" transform="translate(357.5 708.0) rotate(-88.6) skewX(5)" text-anchor="middle" textLength="208.0" lengthAdjust="spacingAndGlyphs">Bursting</text>
<text class="lab" font-size="52.0" fill="#f4240f" stroke="#1e1e1e" stroke-width="4.0" transform="translate(414.0 734.0) rotate(-88.0) skewX(5)" text-anchor="middle" textLength="156.0" lengthAdjust="spacingAndGlyphs">mode</text>
<text class="lab" font-size="52.0" fill="#f4240f" stroke="#1e1e1e" stroke-width="4.0" transform="translate(1080.5 551.5) rotate(-44.0) skewX(5)" text-anchor="middle" textLength="198.0" lengthAdjust="spacingAndGlyphs">Bursting</text>
<text class="lab" font-size="52.0" fill="#f4240f" stroke="#1e1e1e" stroke-width="4.0" transform="translate(1197.0 513.5) rotate(-45.0) skewX(5)" text-anchor="middle" textLength="148.0" lengthAdjust="spacingAndGlyphs">mode</text>
<text class="lab" font-size="52.0" fill="#17a7a5" stroke="#1e1e1e" stroke-width="4.0" transform="translate(1218.0 769.5) rotate(-52.0) skewX(11)" text-anchor="middle" textLength="130.0" lengthAdjust="spacingAndGlyphs">Injury</text>
<text class="lab" font-size="52.0" fill="#17a7a5" stroke="#1e1e1e" stroke-width="4.0" transform="translate(1469.5 556.5) rotate(-35.0) skewX(5)" text-anchor="middle" textLength="156.0" lengthAdjust="spacingAndGlyphs">mode</text>
<text class="lab" font-size="52.0" fill="#8e1a9e" stroke="#1e1e1e" stroke-width="4.0" transform="translate(1206.8 920.5) rotate(-50.0) skewX(5)"><tspan x="2.0" textLength="195.0" lengthAdjust="spacingAndGlyphs">Steady</tspan> <tspan x="213.0" textLength="132.0" lengthAdjust="spacingAndGlyphs">state</tspan></text>
<text class="lab" font-size="52.0" fill="#8e1a9e" stroke="#1e1e1e" stroke-width="4.0" transform="translate(1375.0 832.0) rotate(-50.0) skewX(5)" text-anchor="middle" textLength="155.0" lengthAdjust="spacingAndGlyphs">mode</text>
<text class="lab" font-size="52.0" fill="#17a7a5" stroke="#1e1e1e" stroke-width="4.0" transform="translate(1338.0 989.0) rotate(-49.0) skewX(6)" text-anchor="middle" textLength="144.0" lengthAdjust="spacingAndGlyphs">Injury</text>
<text class="lab" font-size="52.0" fill="#17a7a5" stroke="#1e1e1e" stroke-width="4.0" transform="translate(1453.5 965.0) rotate(39.0) skewX(5)" text-anchor="middle" textLength="155.0" lengthAdjust="spacingAndGlyphs">mode</text>
<polygon points="429.5,970.0 434.4,983.2 448.5,983.8 437.5,992.6 441.3,1006.2 429.5,998.4 417.7,1006.2 421.5,992.6 410.5,983.8 424.6,983.2" fill="#3db964" stroke="#111" stroke-width="2.2" stroke-linejoin="miter"/>
<circle cx="345.2" cy="845" r="24" fill="none" stroke="#161616" stroke-width="2.8"/>
<polygon points="345.4,829.5 349.3,840.1 360.6,840.6 351.8,847.6 354.8,858.4 345.4,852.2 336.0,858.4 339.0,847.6 330.2,840.6 341.5,840.1" fill="#f4240f" stroke="#111" stroke-width="2.2" stroke-linejoin="miter"/>
<polygon points="1127.0,970.0 1131.9,983.2 1146.0,983.8 1135.0,992.6 1138.8,1006.2 1127.0,998.4 1115.2,1006.2 1119.0,992.6 1108.0,983.8 1122.1,983.2" fill="#8e1a9e" stroke="#111" stroke-width="2.2" stroke-linejoin="miter"/>
<polygon points="1406.6,985.0 1411.5,998.2 1425.6,998.8 1414.6,1007.6 1418.4,1021.2 1406.6,1013.4 1394.8,1021.2 1398.6,1007.6 1387.6,998.8 1401.7,998.2" fill="#17a7a5" stroke="#111" stroke-width="2.2" stroke-linejoin="miter"/>
<text class="pt" x="364.5" y="955.0" textLength="142.0" lengthAdjust="spacingAndGlyphs">(a), (b)</text>
<text class="pt" x="381.0" y="858.0" textLength="51.0" lengthAdjust="spacingAndGlyphs">(e)</text>
<text class="pt" x="1157.5" y="1005.0" textLength="51.0" lengthAdjust="spacingAndGlyphs">(c)</text>
<text class="pt" x="1425.0" y="1041.0" textLength="59.0" lengthAdjust="spacingAndGlyphs">(d)</text>
</g>
</svg>
</body>
</html>
